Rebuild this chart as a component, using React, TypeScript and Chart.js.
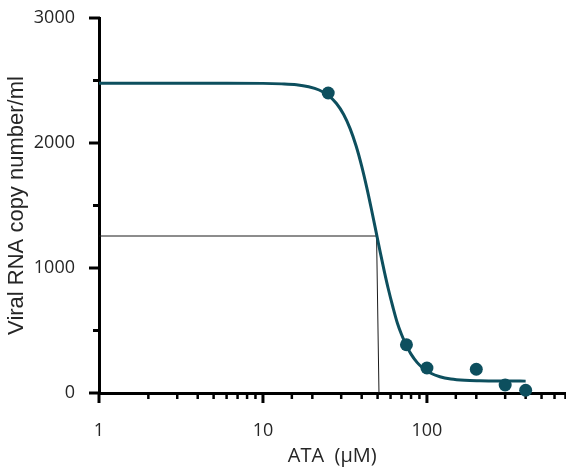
import { useEffect, useRef } from 'react';
import { Chart, registerables } from 'chart.js';

Chart.register(...registerables);

// Measured data points (ATA dose in µM vs viral RNA copies/ml)
const doseUM = [25, 75, 100, 200, 300, 400];
const copies = [2400, 386, 200, 190, 64, 22];

// Fitted dose-response curve
const fitDoseUM = [1, 3, 6, 10, 13, 16, 19, 22, 25, 28, 31, 34, 37, 40, 43, 46, 49, 52, 55, 58, 62, 66, 70, 75, 80, 87, 95, 105, 120, 140, 170, 210, 260, 320, 400];
const fitCopies = [2478, 2478, 2478, 2477, 2473, 2466, 2450, 2424, 2381, 2318, 2230, 2115, 1976, 1815, 1641, 1462, 1287, 1121, 971, 838, 688, 560, 468, 379, 311, 245, 197, 160, 130, 112, 102, 98, 96, 96, 95];

// IC50 guide lines
const guideDoseUM = [1, 49.3, 51];
const guideCopies = [1256, 1256, 0];

// Labelled ticks
const xTickLabels = [1, 10, 100];
const yTickLabels = [0, 1000, 2000, 3000];

const xMin = 1;
const xMax = 700;
const yMin = 0;
const yMax = 3000;
const yStep = 500;

const TEAL = '#0d4f5e';
const TEXT = '#262626';

const isDecade = (v: number) => Math.abs(Math.log10(v) - Math.round(Math.log10(v))) < 1e-9;

const tickMarks = {
  id: 'tickMarks',
  beforeDatasetsDraw(chart: any) {
    const { ctx, scales } = chart;
    const x = scales.x;
    const y = scales.y;
    ctx.save();
    ctx.strokeStyle = '#000';
    ctx.lineCap = 'butt';
    x.ticks.forEach((t: any) => {
      const px = x.getPixelForValue(t.value);
      const major = isDecade(t.value);
      ctx.lineWidth = major ? 3 : 2.5;
      ctx.beginPath();
      ctx.moveTo(px, x.top - 1);
      ctx.lineTo(px, x.top + (major ? 10 : 6));
      ctx.stroke();
    });
    y.ticks.forEach((t: any) => {
      const py = y.getPixelForValue(t.value);
      const major = t.value % 1000 === 0;
      ctx.lineWidth = 3;
      ctx.beginPath();
      ctx.moveTo(y.right + 1, py);
      ctx.lineTo(y.right - (major ? 10 : 6), py);
      ctx.stroke();
    });
    ctx.restore();
  },
};

const zeroPadding = (s: any) => {
  s.paddingTop = 0;
  s.paddingBottom = 0;
  s.paddingLeft = 0;
  s.paddingRight = 0;
};

export default function App() {
  const ref = useRef<HTMLCanvasElement>(null);

  useEffect(() => {
    if (!ref.current) return;
    const chart = new Chart(ref.current, {
      type: 'scatter',
      data: {
        datasets: [
          {
            label: 'Data',
            data: doseUM.map((d, i) => ({ x: d, y: copies[i] })),
            backgroundColor: TEAL,
            borderColor: TEAL,
            pointRadius: 6.5,
            pointBorderWidth: 0,
            showLine: false,
            clip: false,
          },
          {
            label: 'Fit',
            data: fitDoseUM.map((d, i) => ({ x: d, y: fitCopies[i] })),
            showLine: true,
            borderColor: TEAL,
            borderWidth: 3,
            pointRadius: 0,
            cubicInterpolationMode: 'monotone',
            clip: false,
          },
          {
            label: 'IC50',
            data: guideDoseUM.map((d, i) => ({ x: d, y: guideCopies[i] })),
            showLine: true,
            borderColor: '#1a1a1a',
            borderWidth: 1,
            pointRadius: 0,
            tension: 0,
          },
        ],
      } as any,
      options: {
        animation: false,
        responsive: false,
        events: [],
        layout: { padding: { top: 18, right: 0, bottom: 0, left: 0 } },
        plugins: { legend: { display: false }, tooltip: { enabled: false } },
        scales: {
          x: {
            type: 'logarithmic',
            min: xMin,
            max: xMax,
            afterFit: (s: any) => {
              s.height = 78;
              zeroPadding(s);
            },
            grid: { display: false },
            border: { display: true, color: '#000', width: 3 },
            ticks: {
              autoSkip: false,
              maxRotation: 0,
              padding: 19,
              color: TEXT,
              font: { family: 'Open Sans', size: 18 },
              callback: (v: any) => (xTickLabels.includes(Number(v)) ? String(v) : ''),
            },
            title: {
              display: true,
              text: 'ATA  (µM)',
              color: TEXT,
              font: { family: 'Open Sans', size: 20 },
              padding: { top: 0, bottom: 3 },
            },
          },
          y: {
            type: 'linear',
            min: yMin,
            max: yMax,
            afterFit: (s: any) => {
              s.width = 99;
              zeroPadding(s);
            },
            grid: { display: false },
            border: { display: true, color: '#000', width: 3 },
            ticks: {
              stepSize: yStep,
              autoSkip: false,
              padding: 16,
              color: TEXT,
              font: { family: 'Open Sans', size: 18 },
              callback: (v: any) => (yTickLabels.includes(Number(v)) ? String(v) : ''),
            },
            title: {
              display: true,
              text: 'Viral RNA copy number/ml',
              color: TEXT,
              font: { family: 'Liberation Sans', size: 22 },
              padding: { top: 4, bottom: 0 },
            },
          },
        },
      } as any,
      plugins: [tickMarks],
    });
    return () => chart.destroy();
  }, []);

  return (
    <div style={{ position: 'absolute', left: 0, top: 0, width: 566, height: 471, overflow: 'hidden', background: '#fff' }}>
      <canvas ref={ref} width={572} height={471} style={{ display: 'block' }} />
    </div>
  );
}
